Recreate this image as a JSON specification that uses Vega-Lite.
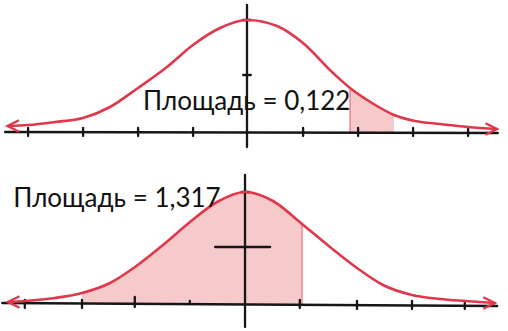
{
  "$schema": "https://vega.github.io/schema/vega-lite/v6.json",
  "padding": 0,
  "spacing": 0,
  "background": "white",
  "config": {"view": {"stroke": null}},
  "datasets": {
    "curves": [
      {"panel": "top", "x": -4.345, "y": 6}, {"panel": "top", "x": -3.982, "y": 7}, {"panel": "top", "x": -3.49, "y": 10},
      {"panel": "top", "x": -2.982, "y": 14}, {"panel": "top", "x": -2.491, "y": 25}, {"panel": "top", "x": -1.982, "y": 44},
      {"panel": "top", "x": -1.455, "y": 65}, {"panel": "top", "x": -0.982, "y": 87}, {"panel": "top", "x": -0.491, "y": 104},
      {"panel": "top", "x": 0, "y": 112}, {"panel": "top", "x": 0.545, "y": 106}, {"panel": "top", "x": 1.018, "y": 89},
      {"panel": "top", "x": 1.564, "y": 59}, {"panel": "top", "x": 1.873, "y": 44}, {"panel": "top", "x": 2.273, "y": 29},
      {"panel": "top", "x": 2.673, "y": 17}, {"panel": "top", "x": 3.055, "y": 11}, {"panel": "top", "x": 3.509, "y": 8},
      {"panel": "top", "x": 4.018, "y": 5}, {"panel": "top", "x": 4.545, "y": 3},
      {"panel": "bottom", "x": -4.345, "y": 2}, {"panel": "bottom", "x": -4.036, "y": 3}, {"panel": "bottom", "x": -3.49, "y": 6},
      {"panel": "bottom", "x": -3.0, "y": 11}, {"panel": "bottom", "x": -2.491, "y": 21}, {"panel": "bottom", "x": -2.036, "y": 37},
      {"panel": "bottom", "x": -1.527, "y": 59}, {"panel": "bottom", "x": -1.036, "y": 82}, {"panel": "bottom", "x": -0.545, "y": 102},
      {"panel": "bottom", "x": -0.036, "y": 112}, {"panel": "bottom", "x": 0.473, "y": 103}, {"panel": "bottom", "x": 1.0, "y": 80},
      {"panel": "bottom", "x": 1.509, "y": 57}, {"panel": "bottom", "x": 2.0, "y": 36}, {"panel": "bottom", "x": 2.473, "y": 19},
      {"panel": "bottom", "x": 3.0, "y": 9}, {"panel": "bottom", "x": 3.509, "y": 5}, {"panel": "bottom", "x": 3.964, "y": 3},
      {"panel": "bottom", "x": 4.509, "y": 1}
    ],
    "rules": [
      {"panel": "top", "kind": "axis", "x": -4.4, "x2": 4.56, "y": 0, "y2": -1},
      {"panel": "top", "kind": "axis", "x": 0.0, "x2": 0.0, "y": 127, "y2": -15},
      {"panel": "top", "kind": "axis", "x": -0.07, "x2": 0.07, "y": 112, "y2": 112},
      {"panel": "top", "kind": "axis", "x": -0.07, "x2": 0.07, "y": 57, "y2": 57},
      {"panel": "top", "kind": "axis", "x": -3.98, "x2": -3.98, "y": 4, "y2": -4},
      {"panel": "top", "kind": "axis", "x": -2.98, "x2": -2.98, "y": 4, "y2": -4},
      {"panel": "top", "kind": "axis", "x": -1.98, "x2": -1.98, "y": 4, "y2": -4},
      {"panel": "top", "kind": "axis", "x": -0.98, "x2": -0.98, "y": 4, "y2": -4},
      {"panel": "top", "kind": "axis", "x": 1.02, "x2": 1.02, "y": 4, "y2": -4},
      {"panel": "top", "kind": "axis", "x": 2.02, "x2": 2.02, "y": 4, "y2": -4},
      {"panel": "top", "kind": "axis", "x": 3.02, "x2": 3.02, "y": 4, "y2": -4},
      {"panel": "top", "kind": "axis", "x": 4.02, "x2": 4.02, "y": 4, "y2": -4},
      {"panel": "top", "kind": "edge", "x": 1.873, "x2": 1.873, "y": 44, "y2": 0},
      {"panel": "bottom", "kind": "axis", "x": -4.45, "x2": 4.55, "y": 1, "y2": -2},
      {"panel": "bottom", "kind": "axis", "x": -0.036, "x2": -0.036, "y": 129, "y2": -23},
      {"panel": "bottom", "kind": "axis", "x": -0.58, "x2": 0.42, "y": 57, "y2": 57},
      {"panel": "bottom", "kind": "axis", "x": -0.1, "x2": 0.05, "y": 112, "y2": 112},
      {"panel": "bottom", "kind": "axis", "x": -4.04, "x2": -4.04, "y": 4, "y2": -4},
      {"panel": "bottom", "kind": "axis", "x": -3.0, "x2": -3.0, "y": 4, "y2": -4},
      {"panel": "bottom", "kind": "axis", "x": -2.04, "x2": -2.04, "y": 7, "y2": -3},
      {"panel": "bottom", "kind": "axis", "x": -1.04, "x2": -1.04, "y": 3, "y2": 1},
      {"panel": "bottom", "kind": "axis", "x": 0.96, "x2": 0.96, "y": 4, "y2": -4},
      {"panel": "bottom", "kind": "axis", "x": 2.0, "x2": 2.0, "y": 3, "y2": -5},
      {"panel": "bottom", "kind": "axis", "x": 3.0, "x2": 3.0, "y": 3, "y2": -5},
      {"panel": "bottom", "kind": "axis", "x": 3.96, "x2": 3.96, "y": 3, "y2": -5},
      {"panel": "bottom", "kind": "edge", "x": 1.0, "x2": 1.0, "y": 80, "y2": 0}
    ],
    "arrows": [
      {"panel": "top", "side": "left", "x": -4.25, "y": 6},
      {"panel": "top", "side": "right", "x": 4.44, "y": 3},
      {"panel": "bottom", "side": "left", "x": -4.24, "y": 2},
      {"panel": "bottom", "side": "right", "x": 4.40, "y": 1}
    ],
    "labels": [
      {"panel": "top", "x": -1.89, "y": 22, "text": "Площадь = 0,122"},
      {"panel": "bottom", "x": -4.25, "y": 97, "text": "Площадь = 1,317"}
    ]
  },
  "vconcat": [
    {
      "width": 508, "height": 165,
      "layer": [
        {"data": {"name": "curves"}, "transform": [{"filter": "datum.panel === 'top' && datum.x >= 1.87 && datum.x <= 2.68"}],
         "mark": {"type": "area", "interpolate": "monotone", "color": "#f4bfc1", "opacity": 0.85},
         "encoding": {"x": {"field": "x", "type": "quantitative", "scale": {"domain": [-4.4909, 4.7455], "nice": false, "zero": false}, "axis": null},
                      "y": {"field": "y", "type": "quantitative", "scale": {"domain": [-33, 132], "nice": false, "zero": false}, "axis": null},
                      "y2": {"datum": 0}}},
        {"data": {"name": "rules"}, "transform": [{"filter": "datum.panel === 'top' && datum.kind === 'edge'"}],
         "mark": {"type": "rule", "color": "#e8707a", "strokeWidth": 1.2},
         "encoding": {"x": {"field": "x", "type": "quantitative"}, "x2": {"field": "x2"}, "y": {"field": "y", "type": "quantitative"}, "y2": {"field": "y2"}}},
        {"data": {"name": "rules"}, "transform": [{"filter": "datum.panel === 'top' && datum.kind === 'axis'"}],
         "mark": {"type": "rule", "color": "#161616", "strokeWidth": 2.3, "strokeCap": "round"},
         "encoding": {"x": {"field": "x", "type": "quantitative"}, "x2": {"field": "x2"}, "y": {"field": "y", "type": "quantitative"}, "y2": {"field": "y2"}}},
        {"data": {"name": "curves"}, "transform": [{"filter": "datum.panel === 'top'"}],
         "mark": {"type": "line", "interpolate": "monotone", "color": "#e0374b", "strokeWidth": 2.6, "strokeCap": "round"},
         "encoding": {"x": {"field": "x", "type": "quantitative"}, "y": {"field": "y", "type": "quantitative"}}},
        {"data": {"name": "arrows"}, "transform": [{"filter": "datum.panel === 'top' && datum.side === 'left'"}],
         "mark": {"type": "point", "shape": "M1,-1L-1,0L1,1", "filled": false, "color": "#e0374b", "strokeWidth": 2.4, "size": 130, "opacity": 1},
         "encoding": {"x": {"field": "x", "type": "quantitative"}, "y": {"field": "y", "type": "quantitative"}}},
        {"data": {"name": "arrows"}, "transform": [{"filter": "datum.panel === 'top' && datum.side === 'right'"}],
         "mark": {"type": "point", "shape": "M-1,-1L1,0L-1,1", "filled": false, "color": "#e0374b", "strokeWidth": 2.4, "size": 130, "opacity": 1},
         "encoding": {"x": {"field": "x", "type": "quantitative"}, "y": {"field": "y", "type": "quantitative"}}},
        {"data": {"name": "labels"}, "transform": [{"filter": "datum.panel === 'top'"}],
         "mark": {"type": "text", "align": "left", "baseline": "alphabetic", "font": "Lato", "fontSize": 26, "color": "#111111"},
         "encoding": {"x": {"field": "x", "type": "quantitative"}, "y": {"field": "y", "type": "quantitative"}, "text": {"field": "text"}}}
      ]
    },
    {
      "width": 508, "height": 166,
      "layer": [
        {"data": {"name": "curves"}, "transform": [{"filter": "datum.panel === 'bottom' && datum.x >= -3.01 && datum.x <= 1.01"}],
         "mark": {"type": "area", "interpolate": "monotone", "color": "#f4bfc1", "opacity": 0.85},
         "encoding": {"x": {"field": "x", "type": "quantitative", "scale": {"domain": [-4.4909, 4.7455], "nice": false, "zero": false}, "axis": null},
                      "y": {"field": "y", "type": "quantitative", "scale": {"domain": [-27, 139], "nice": false, "zero": false}, "axis": null},
                      "y2": {"datum": 0}}},
        {"data": {"name": "rules"}, "transform": [{"filter": "datum.panel === 'bottom' && datum.kind === 'edge'"}],
         "mark": {"type": "rule", "color": "#e8707a", "strokeWidth": 1.2},
         "encoding": {"x": {"field": "x", "type": "quantitative"}, "x2": {"field": "x2"}, "y": {"field": "y", "type": "quantitative"}, "y2": {"field": "y2"}}},
        {"data": {"name": "rules"}, "transform": [{"filter": "datum.panel === 'bottom' && datum.kind === 'axis'"}],
         "mark": {"type": "rule", "color": "#161616", "strokeWidth": 2.3, "strokeCap": "round"},
         "encoding": {"x": {"field": "x", "type": "quantitative"}, "x2": {"field": "x2"}, "y": {"field": "y", "type": "quantitative"}, "y2": {"field": "y2"}}},
        {"data": {"name": "curves"}, "transform": [{"filter": "datum.panel === 'bottom'"}],
         "mark": {"type": "line", "interpolate": "monotone", "color": "#e0374b", "strokeWidth": 2.6, "strokeCap": "round"},
         "encoding": {"x": {"field": "x", "type": "quantitative"}, "y": {"field": "y", "type": "quantitative"}}},
        {"data": {"name": "arrows"}, "transform": [{"filter": "datum.panel === 'bottom' && datum.side === 'left'"}],
         "mark": {"type": "point", "shape": "M1,-1L-1,0L1,1", "filled": false, "color": "#e0374b", "strokeWidth": 2.4, "size": 130, "opacity": 1},
         "encoding": {"x": {"field": "x", "type": "quantitative"}, "y": {"field": "y", "type": "quantitative"}}},
        {"data": {"name": "arrows"}, "transform": [{"filter": "datum.panel === 'bottom' && datum.side === 'right'"}],
         "mark": {"type": "point", "shape": "M-1,-1L1,0L-1,1", "filled": false, "color": "#e0374b", "strokeWidth": 2.4, "size": 130, "opacity": 1},
         "encoding": {"x": {"field": "x", "type": "quantitative"}, "y": {"field": "y", "type": "quantitative"}}},
        {"data": {"name": "labels"}, "transform": [{"filter": "datum.panel === 'bottom'"}],
         "mark": {"type": "text", "align": "left", "baseline": "alphabetic", "font": "Lato", "fontSize": 26, "color": "#111111"},
         "encoding": {"x": {"field": "x", "type": "quantitative"}, "y": {"field": "y", "type": "quantitative"}, "text": {"field": "text"}}}
      ]
    }
  ]
}
